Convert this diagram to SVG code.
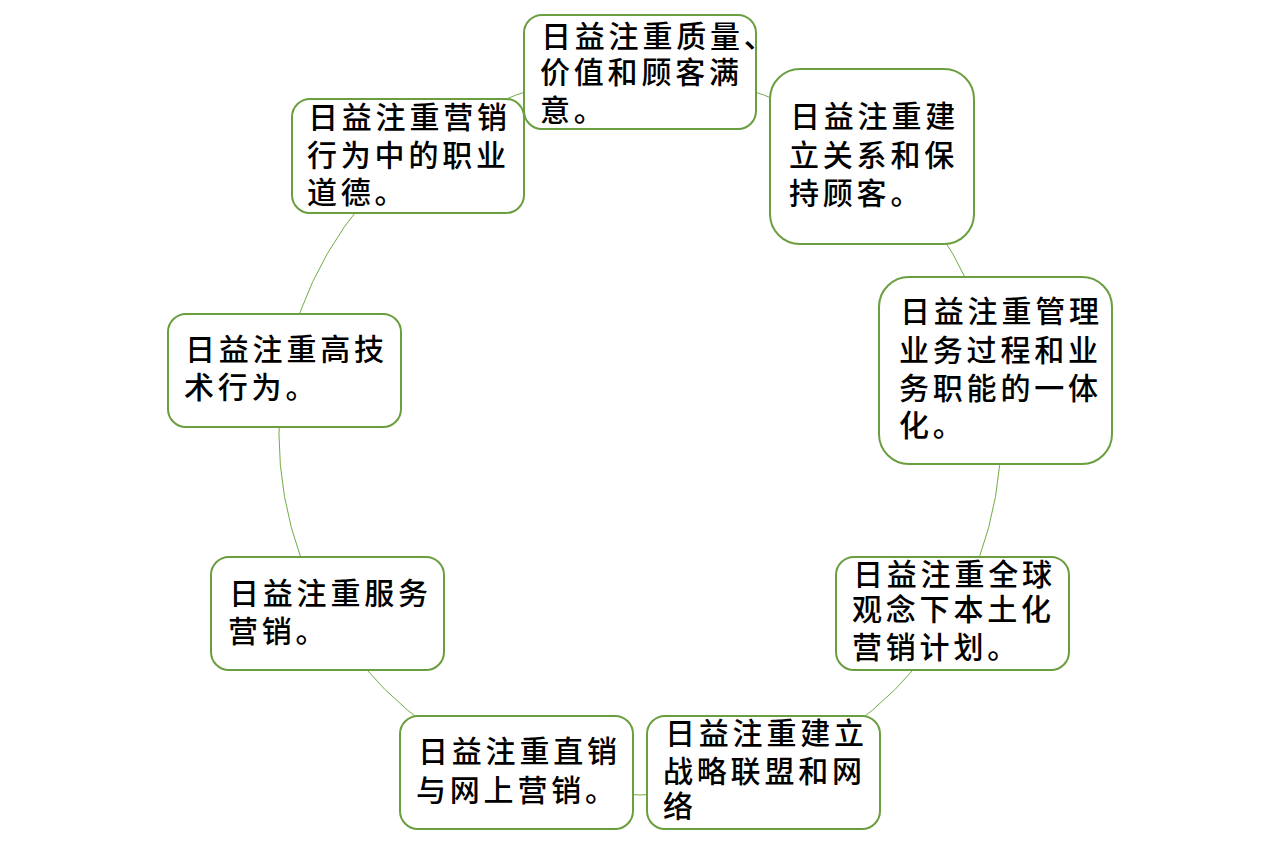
<svg xmlns="http://www.w3.org/2000/svg" width="1280" height="852" viewBox="0 0 1280 852">
<style>
.box{fill:#ffffff;stroke:#6b9e3f;stroke-width:2}
.conn{fill:none;stroke:#70ad47;stroke-width:1}
.t{font-family:"Noto Sans CJK SC","Noto Sans CJK JP",sans-serif;font-size:30px;letter-spacing:3.8px;fill:#000000;font-weight:500}
</style>
<rect width="1280" height="852" fill="#ffffff"/>
<g id="connectors">
<path class="conn" d="M640,73 A361,361 0 0 1 872,157.5"/>
<path class="conn" d="M872,157.5 A361,361 0 0 1 995.5,371.3"/>
<path class="conn" d="M995.5,371.3 A361,361 0 0 1 952.6,614.5"/>
<path class="conn" d="M952.6,614.5 A361,361 0 0 1 763.5,773.2"/>
<path class="conn" d="M763.5,773.2 A361,361 0 0 1 516.5,773.2"/>
<path class="conn" d="M516.5,773.2 A361,361 0 0 1 327.4,614.5"/>
<path class="conn" d="M327.4,614.5 A361,361 0 0 1 284.5,371.3"/>
<path class="conn" d="M284.5,371.3 A361,361 0 0 1 408,157.5"/>
<path class="conn" d="M408,157.5 A361,361 0 0 1 640,73"/>
</g>
<g id="node9">
<rect class="box" x="292" y="99" width="232" height="114" rx="18"/>
<text class="t"><tspan x="308" y="128">日益注重营销</tspan><tspan x="307" y="166">行为中的职业</tspan><tspan x="307" y="203">道德。</tspan></text>
</g>
<g id="node1">
<rect class="box" x="524" y="15" width="232" height="114" rx="18"/>
<text class="t"><tspan x="541" y="47">日益注重质量、</tspan><tspan x="540" y="83">价值和顾客满</tspan><tspan x="540" y="121">意。</tspan></text>
</g>
<g id="node2">
<rect class="box" x="770" y="69" width="204" height="175" rx="30"/>
<text class="t"><tspan x="790" y="127">日益注重建</tspan><tspan x="789" y="166">立关系和保</tspan><tspan x="789" y="204">持顾客。</tspan></text>
</g>
<g id="node3">
<rect class="box" x="879" y="277" width="233" height="187" rx="30"/>
<text class="t"><tspan x="900" y="322">日益注重管理</tspan><tspan x="899" y="361">业务过程和业</tspan><tspan x="899" y="399">务职能的一体</tspan><tspan x="899" y="436">化。</tspan></text>
</g>
<g id="node4">
<rect class="box" x="836" y="557" width="233" height="113" rx="18"/>
<text class="t"><tspan x="853" y="585">日益注重全球</tspan><tspan x="852" y="620">观念下本土化</tspan><tspan x="852" y="658">营销计划。</tspan></text>
</g>
<g id="node5">
<rect class="box" x="647" y="716" width="233" height="113" rx="18"/>
<text class="t"><tspan x="665" y="744">日益注重建立</tspan><tspan x="663" y="782">战略联盟和网</tspan><tspan x="663" y="817">络</tspan></text>
</g>
<g id="node6">
<rect class="box" x="400" y="716" width="233" height="113" rx="18"/>
<text class="t"><tspan x="418" y="762">日益注重直销</tspan><tspan x="416" y="801">与网上营销。</tspan></text>
</g>
<g id="node7">
<rect class="box" x="211" y="557" width="233" height="113" rx="18"/>
<text class="t"><tspan x="229" y="604">日益注重服务</tspan><tspan x="228" y="642">营销。</tspan></text>
</g>
<g id="node8">
<rect class="box" x="168" y="314" width="233" height="113" rx="18"/>
<text class="t"><tspan x="185" y="360">日益注重高技</tspan><tspan x="184" y="398">术行为。</tspan></text>
</g>
</svg>
